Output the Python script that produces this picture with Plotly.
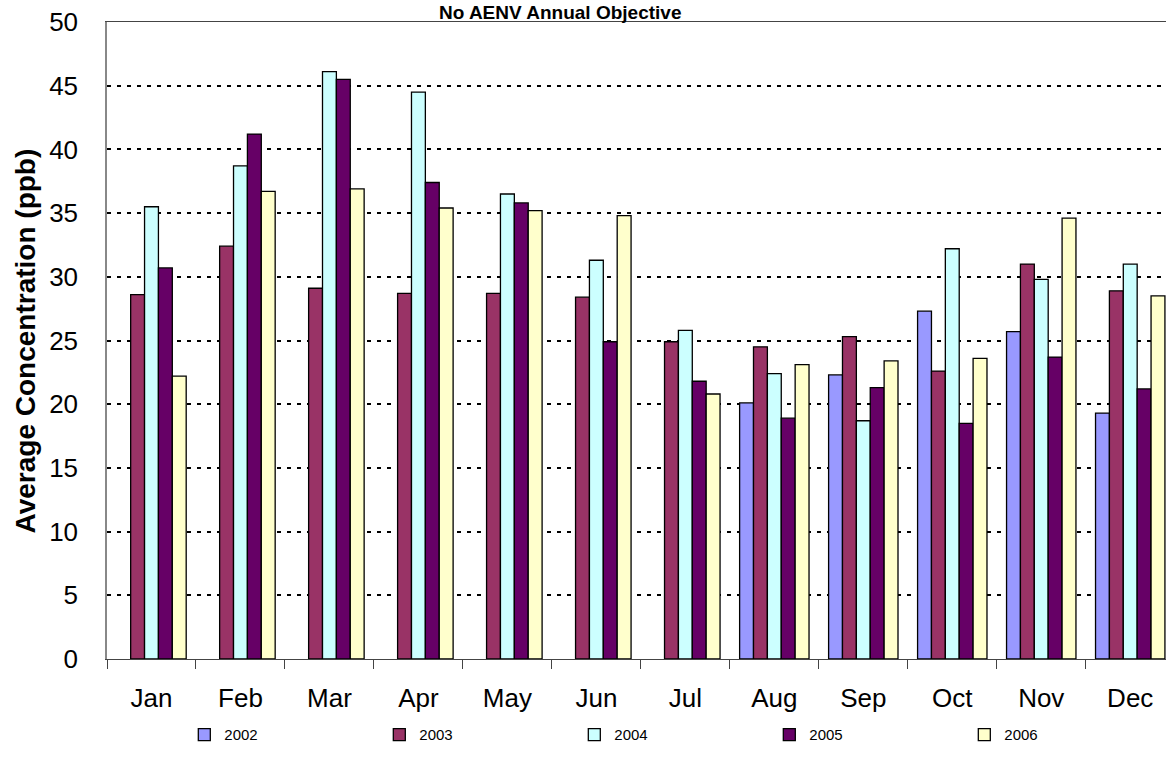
import plotly.graph_objects as go

months = ["Jan", "Feb", "Mar", "Apr", "May", "Jun",
          "Jul", "Aug", "Sep", "Oct", "Nov", "Dec"]

y2002 = [None, None, None, None, None, None, None, 20.1, 22.3, 27.3, 25.7, 19.3]
y2003 = [28.6, 32.4, 29.1, 28.7, 28.7, 28.4, 24.9, 24.5, 25.3, 22.6, 31.0, 28.9]
y2004 = [35.5, 38.7, 46.1, 44.5, 36.5, 31.3, 25.8, 22.4, 18.7, 32.2, 29.8, 31.0]
y2005 = [30.7, 41.2, 45.5, 37.4, 35.8, 24.9, 21.8, 18.9, 21.3, 18.5, 23.7, 21.2]
y2006 = [22.2, 36.7, 36.9, 35.4, 35.2, 34.8, 20.8, 23.1, 23.4, 23.6, 34.6, 28.5]

series = [
    ("2002", y2002, "#9999FF"),
    ("2003", y2003, "#993366"),
    ("2004", y2004, "#CCFFFF"),
    ("2005", y2005, "#660066"),
    ("2006", y2006, "#FFFFCC"),
]

y_ticks = [0, 5, 10, 15, 20, 25, 30, 35, 40, 45, 50]

FONT = "Liberation Sans, Arial, sans-serif"

fig = go.Figure()
for name, vals, color in series:
    fig.add_trace(go.Bar(
        name=name, x=months, y=vals,
        marker=dict(color=color, line=dict(color="black", width=1.3)),
    ))

fig.update_layout(
    width=1166, height=763,
    margin=dict(l=107, r=0, t=22, b=104),
    paper_bgcolor="white", plot_bgcolor="white",
    barmode="group", bargap=0.22, bargroupgap=0,
    font=dict(family=FONT, color="black"),
    showlegend=True,
    legend=dict(
        orientation="h", x=0.073, xanchor="left", y=-0.119, yanchor="middle",
        entrywidth=150, entrywidthmode="pixels",
        font=dict(size=15, family=FONT), traceorder="normal",
        itemwidth=30,
    ),
    annotations=[
        dict(text="<b>No AENV Annual Objective</b>", xref="paper", yref="paper",
             x=0.4278, y=1.0345, xanchor="center", yanchor="top",
             showarrow=False, font=dict(size=19, family=FONT)),
        dict(text="<b>Average Concentration (ppb)</b>", xref="paper", yref="paper",
             x=-0.0765, y=0.5, xanchor="center", yanchor="middle", textangle=-90,
             showarrow=False, font=dict(size=28, family=FONT)),
    ],
)

fig.update_xaxes(
    type="category", range=[-0.5, 11.402],
    showline=True, linecolor="#444444", linewidth=1.3, mirror=True,
    ticks="outside", tickson="boundaries", ticklen=9, tickcolor="#444444",
    tickwidth=1.3, ticklabelstandoff=16,
    tickfont=dict(size=26, family=FONT), showgrid=False,
)

fig.update_yaxes(
    range=[0, 50], tickvals=y_ticks,
    showline=True, linecolor="#888888", linewidth=1.5,
    showgrid=True, gridcolor="black", gridwidth=2, griddash="4px,6px",
    zeroline=False, ticks="", ticklabelstandoff=22,
    tickfont=dict(size=26, family=FONT),
)

fig.write_html("out.html")
